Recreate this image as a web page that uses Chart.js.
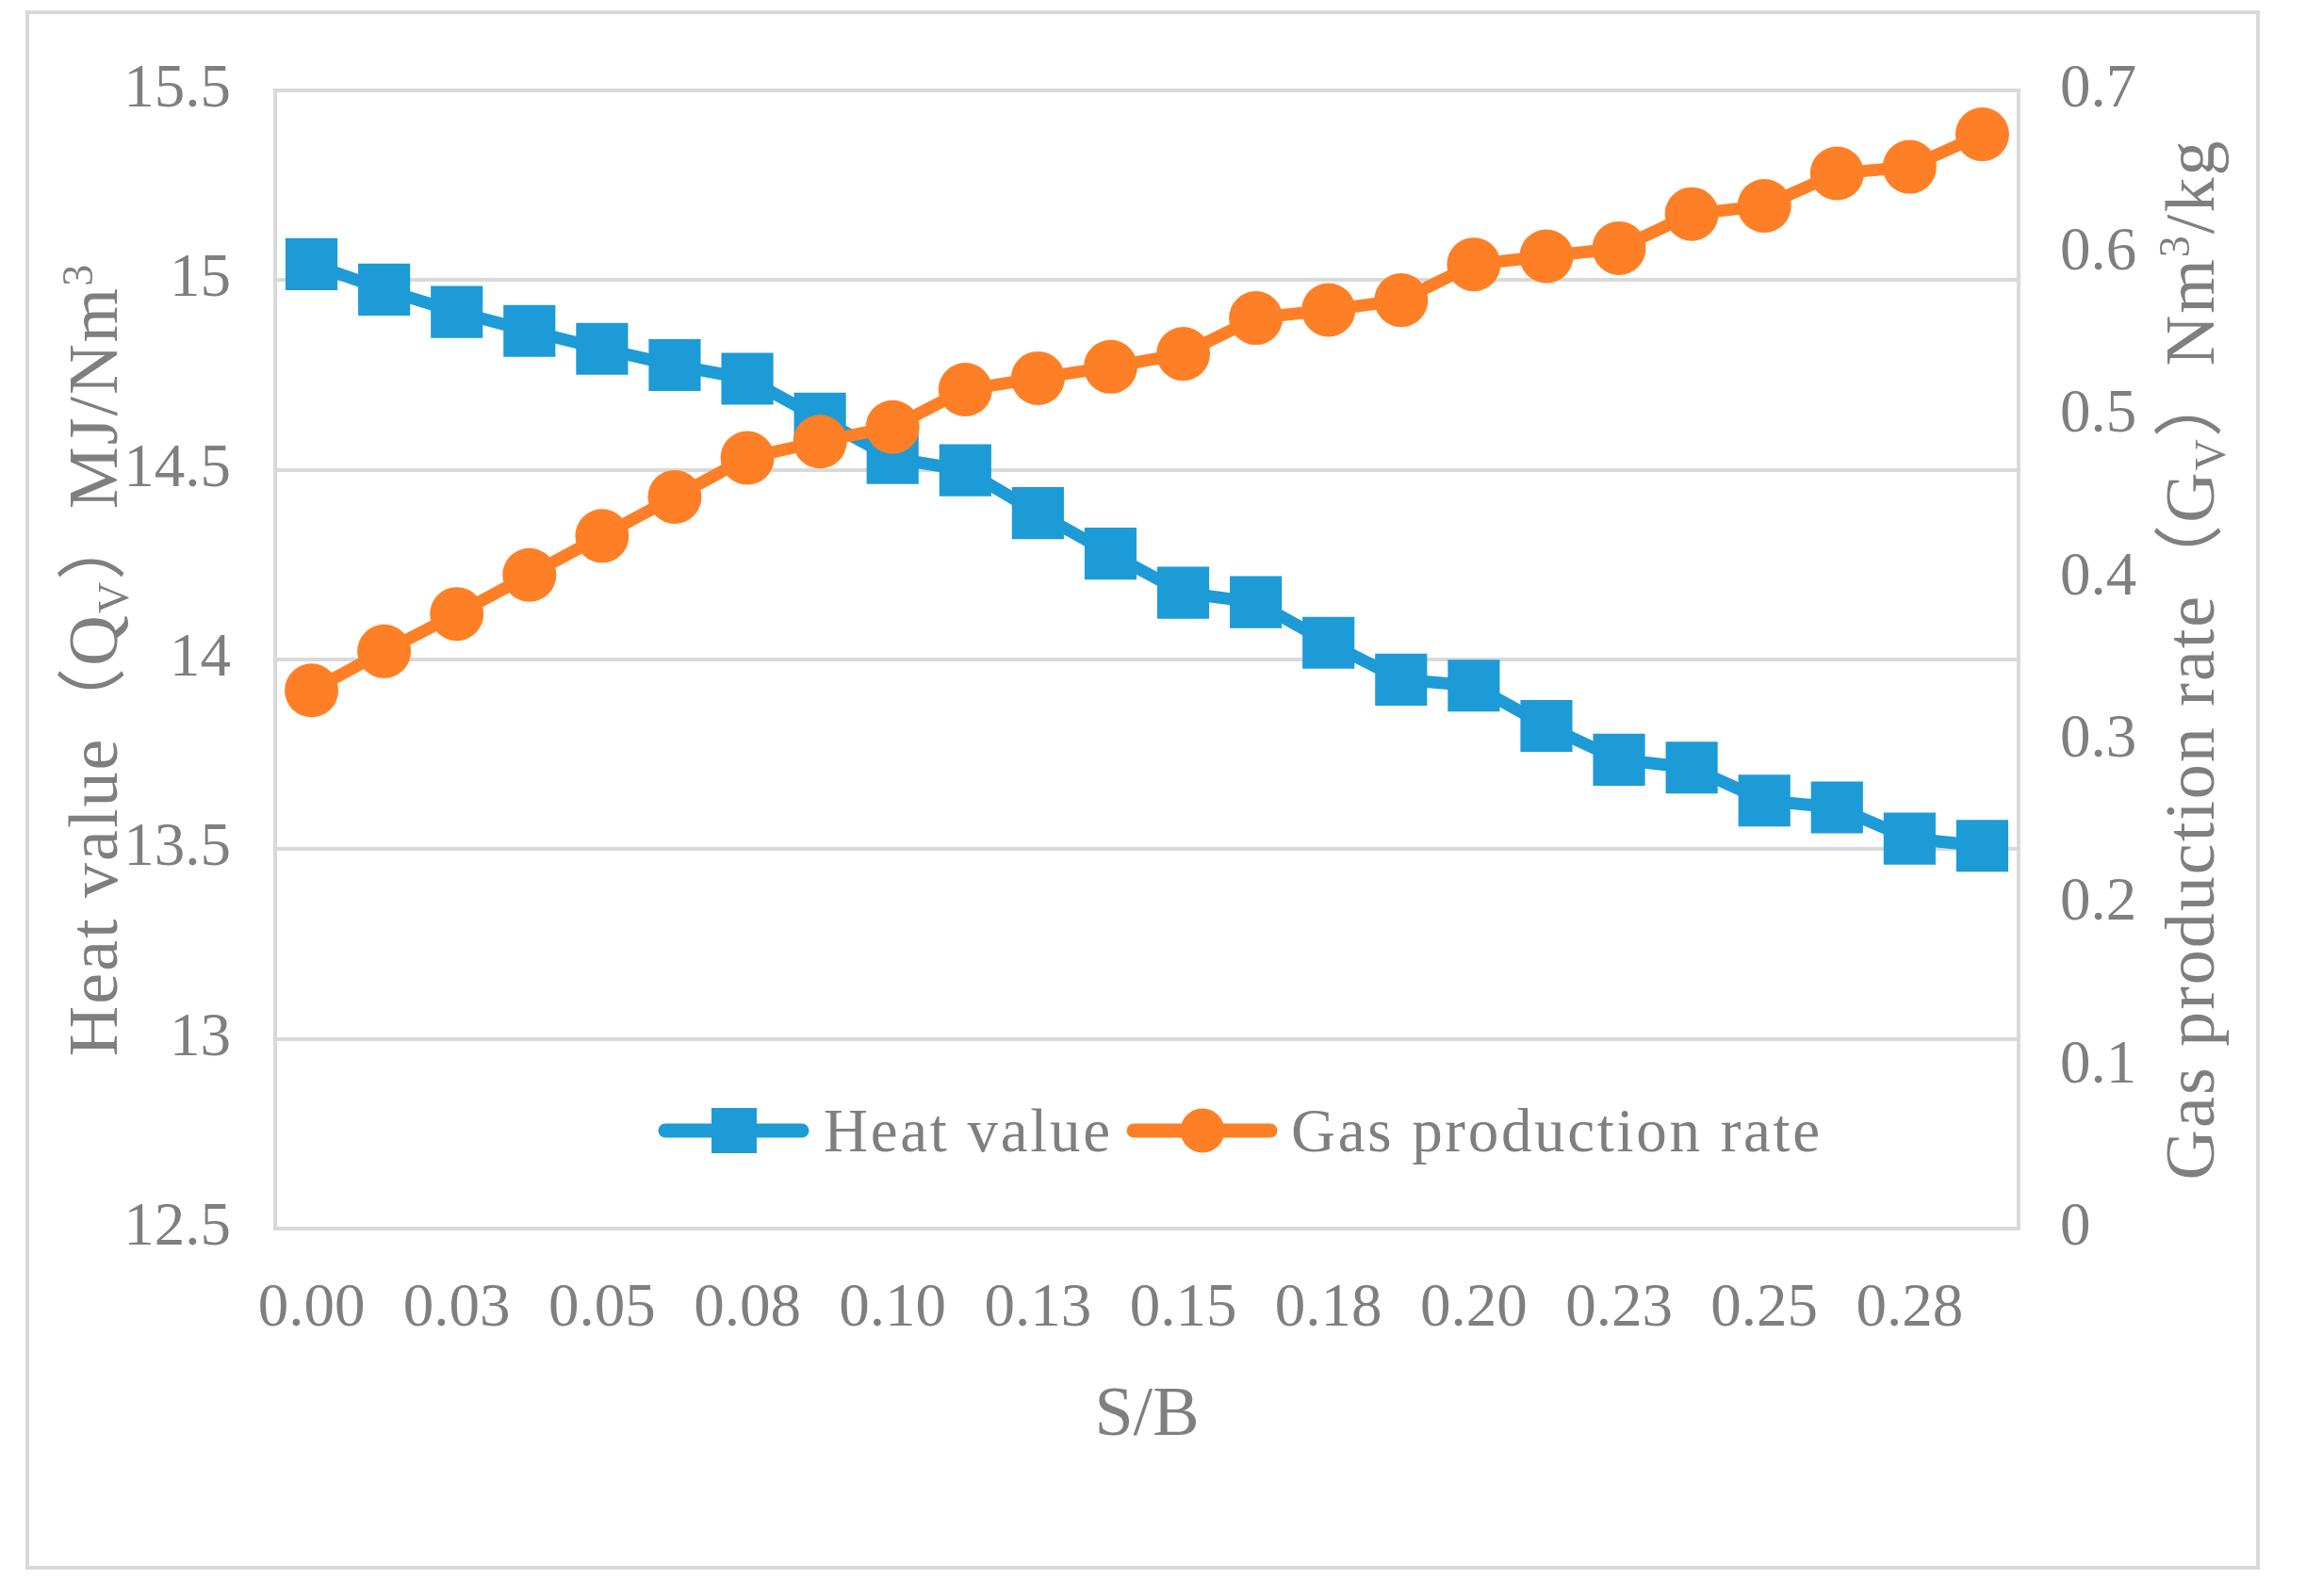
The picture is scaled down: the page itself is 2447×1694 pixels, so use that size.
<!DOCTYPE html>
<html>
<head>
<meta charset="utf-8">
<script src="https://cdn.jsdelivr.net/npm/chart.js@4.4.1/dist/chart.umd.min.js"></script>
<style>
  html, body { margin: 0; padding: 0; background: #ffffff; }
  canvas { display: block; }
</style>
</head>
<body>
<canvas id="chart" width="2447" height="1694"></canvas>
<script>
// ---------------- data ----------------
const sbLabels = ['0.00','0.01','0.03','0.04','0.05','0.06','0.08','0.09','0.10','0.11','0.13','0.14',
                  '0.15','0.16','0.18','0.19','0.20','0.21','0.23','0.24','0.25','0.26','0.28','0.29'];
const heatValue = [15.042,14.975,14.916,14.866,14.819,14.776,14.740,14.635,14.531,14.499,14.386,14.279,
                   14.176,14.151,14.044,13.947,13.931,13.825,13.736,13.715,13.628,13.610,13.528,13.509];
const gasRate = [0.331,0.355,0.378,0.402,0.426,0.450,0.474,0.484,0.493,0.516,0.523,0.530,
                 0.538,0.560,0.565,0.571,0.593,0.598,0.603,0.624,0.629,0.649,0.653,0.673];
const seriesNames = ['Heat value', 'Gas production rate'];
const xTitle = 'S/B';
const leftTitle = [{t:'Heat value（'}, {t:'Q'}, {t:'V', sub:true}, {t:'）MJ/Nm'}, {t:'3', sup:true}];
const rightTitle = [{t:'Gas production rate（'}, {t:'G'}, {t:'V', sub:true}, {t:'）Nm'}, {t:'3', sup:true}, {t:'/kg'}];
const leftTicks = {min: 12.5, max: 15.5, step: 0.5};
const rightTicks = {min: 0, max: 0.7, step: 0.1};

// ---------------- styles ----------------
const BLUE = '#1D9BD7';
const ORANGE = '#FE7F25';
const TEXT = '#7f7f7f';
const GRID = '#d9d9d9';
const FAMILY = '"Liberation Serif", "Noto Sans CJK SC", serif';
const TICK_SIZE = 65;
const TITLE_SIZE = 74;

Chart.defaults.font.family = FAMILY;
Chart.defaults.color = TEXT;

function fmt(v) { return String(Number(Number(v).toFixed(2))); }

function drawRich(ctx, segs, cx, cy, size) {
  const small = Math.round(size * 0.62);
  ctx.save();
  ctx.letterSpacing = '2px';
  let total = 0;
  segs.forEach(s => {
    ctx.font = (s.sub || s.sup ? small : size) + 'px ' + FAMILY;
    s.w = ctx.measureText(s.t).width;
    total += s.w;
  });
  ctx.translate(cx, cy);
  ctx.rotate(-Math.PI / 2);
  ctx.fillStyle = TEXT;
  ctx.textBaseline = 'alphabetic';
  ctx.textAlign = 'left';
  const base = size * 0.331;
  let x = -total / 2;
  segs.forEach(s => {
    ctx.font = (s.sub || s.sup ? small : size) + 'px ' + FAMILY;
    let y = base;
    if (s.sub) y += size * 0.16;
    if (s.sup) y -= size * 0.36;
    ctx.fillText(s.t, x, y);
    x += s.w;
  });
  ctx.restore();
}

const framePlugin = {
  id: 'frame',
  beforeDraw(chart) {
    const ctx = chart.ctx;
    ctx.save();
    ctx.fillStyle = '#ffffff';
    ctx.fillRect(0, 0, chart.width, chart.height);
    ctx.strokeStyle = GRID;
    ctx.lineWidth = 4;
    ctx.strokeRect(29, 13, 2367, 1651);
    ctx.restore();
  },
  afterDraw(chart) {
    const ctx = chart.ctx;
    const ca = chart.chartArea;
    const cy = (ca.top + ca.bottom) / 2;
    drawRich(ctx, leftTitle, 100, cy, TITLE_SIZE);
    drawRich(ctx, rightTitle, 2325, cy, TITLE_SIZE);

    // legend inside the plot area
    ctx.save();
    ctx.letterSpacing = '2.7px';
    ctx.font = TICK_SIZE + 'px ' + FAMILY;
    ctx.textBaseline = 'alphabetic';
    ctx.textAlign = 'left';
    const ly = 1200;
    const starts = [699, 1196];
    const textStarts = [874, 1370];
    chart.data.datasets.forEach((ds, i) => {
      const x0 = starts[i];
      ctx.strokeStyle = ds.borderColor;
      ctx.lineWidth = 15;
      ctx.lineCap = 'round';
      ctx.beginPath();
      ctx.moveTo(x0 + 7, ly);
      ctx.lineTo(x0 + 152, ly);
      ctx.stroke();
      ctx.fillStyle = ds.borderColor;
      const mx = x0 + 80;
      if (ds.pointStyle === 'rect') {
        ctx.fillRect(mx - 24, ly - 24, 48, 48);
      } else {
        ctx.beginPath();
        ctx.arc(mx, ly, 23.5, 0, Math.PI * 2);
        ctx.fill();
      }
      ctx.fillStyle = TEXT;
      ctx.fillText(ds.label, textStarts[i], ly + TICK_SIZE * 0.331);
    });
    ctx.restore();
  }
};

new Chart(document.getElementById('chart'), {
  type: 'line',
  data: {
    labels: sbLabels,
    datasets: [
      {
        label: seriesNames[0],
        data: heatValue,
        yAxisID: 'y',
        borderColor: BLUE,
        backgroundColor: BLUE,
        borderWidth: 13,
        pointStyle: 'rect',
        pointRadius: 39,
        pointBorderWidth: 0,
        pointBackgroundColor: BLUE,
        tension: 0,
        order: 2,
        clip: false
      },
      {
        label: seriesNames[1],
        data: gasRate,
        yAxisID: 'y1',
        borderColor: ORANGE,
        backgroundColor: ORANGE,
        borderWidth: 13,
        pointStyle: 'circle',
        pointRadius: 28.5,
        pointBorderWidth: 0,
        pointBackgroundColor: ORANGE,
        tension: 0,
        order: 1,
        clip: false
      }
    ]
  },
  options: {
    responsive: false,
    animation: false,
    devicePixelRatio: 1,
    layout: { padding: { top: 96, left: 0, right: 0, bottom: 0 } },
    plugins: {
      legend: { display: false },
      tooltip: { enabled: false }
    },
    scales: {
      x: {
        type: 'category',
        offset: true,
        grid: { display: false, drawTicks: false },
        border: { display: true, color: GRID, width: 4 },
        ticks: {
          autoSkip: false,
          maxRotation: 0,
          minRotation: 0,
          padding: 47,
          color: TEXT,
          font: { size: TICK_SIZE },
          callback: function (v, i) { return i % 2 === 0 ? this.getLabelForValue(v) : ''; }
        },
        title: {
          display: true,
          text: xTitle,
          color: TEXT,
          font: { size: TITLE_SIZE },
          padding: { top: 0, bottom: 146 }
        },
        afterFit(s) { s.height = 390; }
      },
      y: {
        position: 'left',
        min: leftTicks.min,
        max: leftTicks.max,
        grid: { color: GRID, lineWidth: 4, drawTicks: false },
        border: { display: true, color: GRID, width: 4 },
        ticks: { stepSize: leftTicks.step, padding: 47, color: TEXT, font: { size: TICK_SIZE }, callback: fmt },
        afterFit(s) { s.width = 292; }
      },
      y1: {
        position: 'right',
        min: rightTicks.min,
        max: rightTicks.max,
        grid: { display: false, drawTicks: false },
        border: { display: true, color: GRID, width: 4 },
        ticks: { stepSize: rightTicks.step, padding: 44, color: TEXT, font: { size: TICK_SIZE }, callback: fmt },
        afterFit(s) { s.width = 305; }
      }
    }
  },
  plugins: [framePlugin]
});
</script>
</body>
</html>
